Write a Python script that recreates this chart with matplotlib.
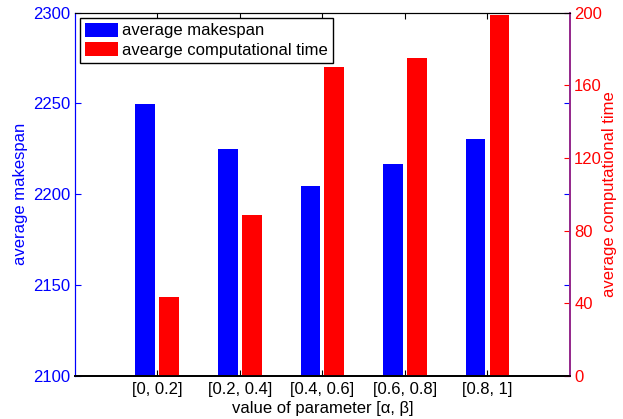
import numpy as np
import matplotlib
matplotlib.use("Agg")
import matplotlib.pyplot as plt

plt.rcParams['font.family'] = ['Liberation Sans', 'DejaVu Sans']
plt.rcParams['font.size'] = 12

# data
categories = ['[0, 0.2]', '[0.2, 0.4]', '[0.4, 0.6]', '[0.6, 0.8]', '[0.8, 1]']
makespan = [2249.7, 2224.8, 2204.8, 2216.7, 2230.5]
comp_time = [43.5, 88.8, 169.9, 174.9, 198.7]

BLUE = '#0000ff'
RED = '#ff0000'
PURPLE = '#962a8c'

fig = plt.figure(figsize=(6.23, 4.19), dpi=100)
ax = fig.add_axes([0.120, 0.1026, 0.795, 0.8674])
ax2 = ax.twinx()

x = np.arange(1, len(categories) + 1)
off = 0.145
w = 0.24

b1 = ax.bar(x - off, makespan, width=w, color=BLUE, label='average makespan', zorder=2)
b2 = ax2.bar(x + off, comp_time, width=w, color=RED, label='avearge computational time', zorder=2)

ax.set_xlim(0, 6)
ax.set_ylim(2100, 2300)
ax.set_yticks([2100, 2150, 2200, 2250, 2300])
ax2.set_ylim(0, 200)
ax2.set_yticks([0, 40, 80, 120, 160, 200])

ax.set_xticks(x)
ax.set_xticklabels(categories)
ax.set_xlabel('value of parameter [\u03b1, \u03b2]', labelpad=3)
ax.set_ylabel('average makespan', color=BLUE, labelpad=4)
ax2.set_ylabel('average computational time', color=RED, labelpad=0)

ax.tick_params(axis='x', direction='in', top=True, length=4, pad=4, colors='black')
ax.tick_params(axis='y', direction='in', right=True, labelright=False, length=4,
               color=BLUE, labelcolor=BLUE, pad=3)
ax2.tick_params(axis='y', direction='in', length=4, color=RED, labelcolor=RED, pad=3)

for a in (ax, ax2):
    a.spines['left'].set_color(BLUE)
    a.spines['right'].set_color(PURPLE)
    a.spines['top'].set_color('black')
    a.spines['bottom'].set_color('black')
    a.spines['bottom'].set_linewidth(1.3)
    a.spines['right'].set_linewidth(1.3)

leg = ax2.legend([b1, b2], ['average makespan', 'avearge computational time'],
                 loc='upper left', bbox_to_anchor=(0.0, 1.0), fancybox=False,
                 edgecolor='black', framealpha=1, handlelength=2.0, handleheight=0.95,
                 borderpad=0.3, labelspacing=0.2, handletextpad=0.25, borderaxespad=0.3)
leg.get_frame().set_linewidth(1.0)

fig.savefig('out.png', dpi=100)
